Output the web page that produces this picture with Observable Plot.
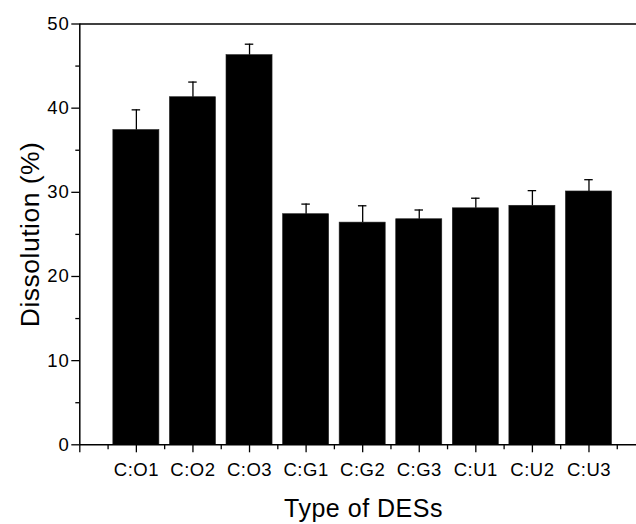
<!DOCTYPE html>
<html>
<head>
<meta charset="utf-8">
<script src="https://cdn.jsdelivr.net/npm/d3@7"></script>
<script src="https://cdn.jsdelivr.net/npm/@observablehq/plot@0.6"></script>
<style>
  html, body { margin: 0; padding: 0; background: #fff; overflow: hidden; }
  g[aria-label="y-axis tick label"] text { letter-spacing: 1px; }
  g[aria-label="x-axis tick label"] text { letter-spacing: 0.5px; }
  g[aria-label="text"] text { letter-spacing: 0.5px; }
</style>
</head>
<body>
<div id="chart"></div>
<script>
const categories = ["C:O1", "C:O2", "C:O3", "C:G1", "C:G2", "C:G3", "C:U1", "C:U2", "C:U3"];
const values = [37.4, 41.3, 46.3, 27.4, 26.4, 26.8, 28.1, 28.4, 30.1];
const errors = [2.4, 1.8, 1.3, 1.2, 2.0, 1.1, 1.2, 1.8, 1.4];
const yMajorTicks = [0, 10, 20, 30, 40, 50];
const yMinorTicks = [5, 15, 25, 35, 45];
const xTitle = "Type of DESs";
const yTitle = "Dissolution (%)";

const data = categories.map((c, i) => ({cat: c, pos: i + 1, value: values[i], err: errors[i]}));
const xMajor = d3.range(0, categories.length + 1);
const xMinor = xMajor.map(v => v + 0.5);
const halfBar = 0.407;
const halfCap = 0.075;

const chart = Plot.plot({
  width: 636,
  height: 524,
  marginLeft: 79.3,
  marginRight: 0,
  marginTop: 23.5,
  marginBottom: 79.7,
  style: {fontFamily: "'Liberation Sans', Arial, sans-serif", fontSize: "18.5px", color: "black", background: "white"},
  x: {domain: [0, 9.84], axis: null},
  y: {domain: [0, 50], axis: null},
  marks: [
    Plot.rectY(data, {x1: d => d.pos - halfBar, x2: d => d.pos + halfBar, y: "value", fill: "black", stroke: "#222", strokeWidth: 0.6}),
    Plot.ruleX(data, {x: "pos", y1: "value", y2: d => d.value + d.err, stroke: "black", strokeWidth: 1.3}),
    Plot.ruleY(data, {y: d => d.value + d.err, x1: d => d.pos - halfCap, x2: d => d.pos + halfCap, stroke: "black", strokeWidth: 1.3}),
    Plot.ruleY([0, 50], {stroke: "black", strokeWidth: 1.5}),
    Plot.ruleX([0], {y1: 0, y2: 50, stroke: "black", strokeWidth: 1.5}),
    Plot.axisY({ticks: yMajorTicks, tickSize: 8, tickPadding: 2, label: null, fontSize: 18.5, strokeWidth: 1.3}),
    Plot.axisY({ticks: yMinorTicks, tickSize: 4, tickFormat: () => "", label: null, strokeWidth: 1.3}),
    Plot.axisX({ticks: xMajor, tickSize: 8, tickPadding: 9.6, tickFormat: v => v === 0 ? "" : categories[v - 1], label: null, fontSize: 18.5, strokeWidth: 1.3}),
    Plot.axisX({ticks: xMinor, tickSize: 5, tickFormat: () => "", label: null, strokeWidth: 1.3}),
    Plot.text([xTitle], {frameAnchor: "bottom-left", textAnchor: "middle", lineAnchor: "middle", dx: 283.7, dy: 64.4, fontSize: 25, fill: "black"}),
    Plot.text([yTitle], {frameAnchor: "left", textAnchor: "middle", lineAnchor: "middle", dx: -49.5, rotate: -90, fontSize: 26.5, fill: "black"})
  ]
});
document.getElementById("chart").appendChild(chart);
</script>
</body>
</html>
